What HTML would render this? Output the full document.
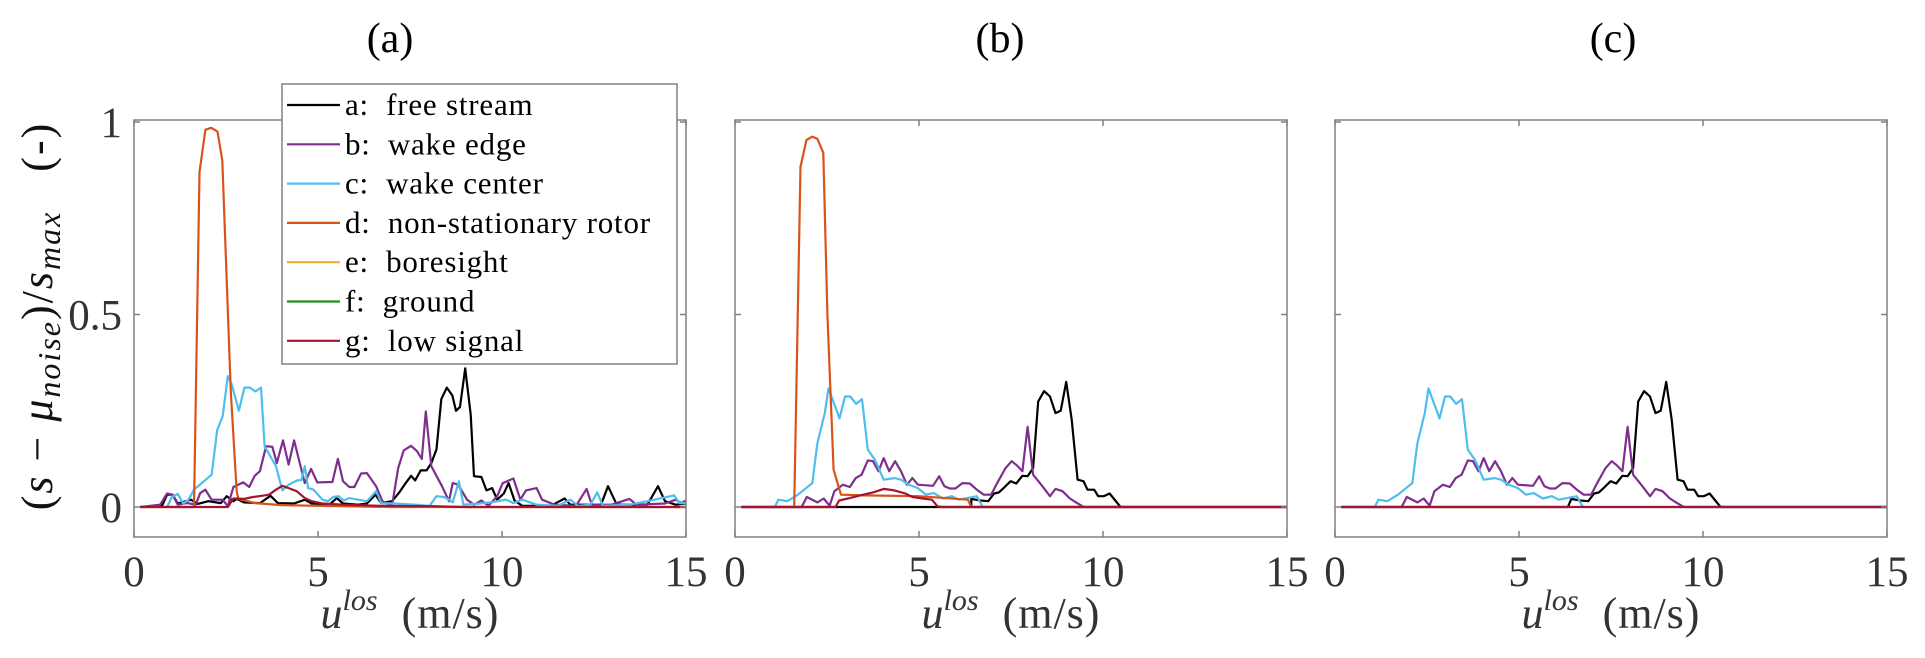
<!DOCTYPE html>
<html><head><meta charset="utf-8"><style>
html,body{margin:0;padding:0;background:#fff;}
svg{display:block;font-family:"Liberation Serif",serif;}
text{white-space:pre;}
</style></head><body>
<svg id="fig" width="1925" height="658" viewBox="0 0 1925 658"></svg>
<script>
// ---- data (u_los in m/s, normalized signal) ----
const xTicks=[0,5,10,15];
const xTickLabels=['0','5','10','15'];
const yTicks=[0,0.5,1];
const yTickLabels=['0','0.5','1'];
const panelTitles=['(a)','(b)','(c)'];
const legendLabels=['a:  free stream','b:  wake edge','c:  wake center','d:  non-stationary rotor','e:  boresight','f:  ground','g:  low signal'];

const aBlack=[[0.17,0],[0.76,0.003],[0.9,0.032],[1.05,0.032],[1.19,0.009],[1.55,0.019],[1.73,0.008],[2.02,0.015],[2.36,0.01],[2.52,0.028],[2.7,0.015],[2.79,0.021],[2.99,0.012],[3.42,0.01],[3.71,0.029],[3.91,0.01],[4.35,0.009],[4.64,0.019],[4.83,0.009],[5.32,0.007],[5.51,0.023],[5.68,0.009],[6.09,0.006],[6.33,0.009],[6.56,0.032],[6.72,0.01],[7.01,0.015],[7.21,0.038],[7.35,0.058],[7.53,0.081],[7.64,0.069],[7.79,0.095],[7.95,0.095],[8.08,0.114],[8.22,0.15],[8.35,0.28],[8.5,0.31],[8.65,0.29],[8.75,0.25],[8.86,0.26],[9.0,0.36],[9.15,0.24],[9.24,0.08],[9.44,0.078],[9.58,0.043],[9.73,0.049],[9.87,0.019],[10.05,0.035],[10.18,0.062],[10.34,0.017],[10.55,0.003],[11.33,0.003],[11.7,0.022],[11.86,0.006],[12.69,0.006],[12.88,0.054],[13.12,0.006],[13.95,0.006],[14.24,0.054],[14.43,0.015],[14.72,0.006],[15.0,0.009]];
const aPurple=[[0.17,0],[0.71,0.006],[0.9,0.035],[1.05,0.032],[1.19,0.006],[1.44,0.01],[1.68,0.006],[1.8,0.036],[1.94,0.045],[2.11,0.019],[2.41,0.019],[2.55,0.002],[2.7,0.052],[2.97,0.064],[3.13,0.052],[3.28,0.081],[3.42,0.093],[3.59,0.158],[3.76,0.156],[3.88,0.114],[4.05,0.173],[4.2,0.11],[4.35,0.173],[4.64,0.062],[4.81,0.099],[4.98,0.064],[5.39,0.065],[5.54,0.125],[5.68,0.067],[5.85,0.052],[5.99,0.052],[6.17,0.087],[6.33,0.088],[6.58,0.054],[6.75,0.015],[7.01,0.003],[7.18,0.101],[7.33,0.147],[7.53,0.159],[7.69,0.145],[7.82,0.125],[7.93,0.248],[8.08,0.106],[8.37,0.054],[8.56,0.015],[8.66,0.062],[8.81,0.058],[9.05,0.019],[9.24,0.006],[9.44,0.017],[9.63,0.003],[9.87,0.028],[10.02,0.062],[10.31,0.074],[10.5,0.019],[10.65,0.043],[10.94,0.049],[11.09,0.019],[11.43,0.006],[12.01,0.003],[12.3,0.047],[12.44,0.006],[12.98,0.006],[13.46,0.021],[13.66,0.006],[14.43,0.009],[14.72,0.019],[14.87,0.01],[15.0,0.017]];
const aCyan=[[0.9,0],[1.03,0.026],[1.19,0.034],[1.34,0.009],[1.48,0.019],[1.63,0.045],[2.11,0.084],[2.26,0.2],[2.41,0.236],[2.55,0.34],[2.65,0.32],[2.85,0.25],[3.0,0.31],[3.15,0.31],[3.3,0.30],[3.45,0.31],[3.55,0.158],[3.86,0.106],[4.03,0.043],[4.2,0.058],[4.44,0.069],[4.55,0.07],[4.64,0.106],[4.73,0.049],[4.88,0.045],[5.12,0.019],[5.27,0.015],[5.41,0.026],[5.56,0.028],[5.7,0.017],[5.85,0.023],[6.09,0.019],[6.33,0.015],[6.58,0.041],[6.72,0.01],[7.06,0.009],[7.64,0.006],[8.03,0.003],[8.22,0.028],[8.42,0.026],[8.56,0.019],[8.66,0.012],[8.83,0.067],[8.95,0.006],[9.39,0.009],[9.68,0.012],[10.12,0.019],[10.31,0.01],[10.55,0.019],[10.94,0.006],[11.52,0.003],[11.86,0.019],[12.06,0.003],[12.4,0.006],[12.59,0.038],[12.74,0.003],[13.46,0.006],[13.95,0.015],[14.34,0.023],[14.68,0.03],[14.82,0.01],[15.0,0.01]];
const aOrange=[[0.17,0],[1.63,0],[1.78,0.87],[1.94,0.98],[2.1,0.985],[2.27,0.975],[2.4,0.90],[2.63,0.3],[2.79,0.04],[2.84,0.021],[3.3,0.01],[4.0,0.005],[5.0,0.003],[7.0,0],[15,0]];
const aRed=[[0.17,0],[2.55,0],[2.7,0.022],[2.99,0.021],[3.23,0.026],[3.47,0.029],[3.67,0.032],[3.86,0.045],[4.03,0.055],[4.2,0.049],[4.42,0.041],[4.64,0.023],[4.83,0.015],[5.12,0.009],[5.7,0.006],[6.67,0.003],[8.13,0.002],[9.0,0],[15,0]];

const bBlack=[[0.17,0],[15,0],[6.42,0],[6.42,0.021],[6.67,0.017],[6.88,0.015],[7.04,0.035],[7.17,0.038],[7.33,0.052],[7.49,0.067],[7.64,0.061],[7.81,0.081],[7.95,0.08],[8.1,0.101],[8.24,0.274],[8.4,0.301],[8.56,0.287],[8.71,0.244],[8.85,0.25],[9.0,0.325],[9.15,0.227],[9.31,0.071],[9.47,0.067],[9.58,0.045],[9.76,0.045],[9.87,0.028],[10.02,0.028],[10.18,0.035],[10.46,0.002],[10.5,0]];
const bPurple=[[0.17,0],[1.81,0],[1.95,0.026],[2.24,0.012],[2.41,0.022],[2.57,0.003],[2.7,0.041],[2.93,0.058],[3.12,0.052],[3.28,0.075],[3.44,0.084],[3.61,0.121],[3.75,0.119],[3.9,0.093],[4.04,0.127],[4.19,0.093],[4.35,0.119],[4.51,0.093],[4.67,0.058],[4.82,0.075],[4.97,0.058],[5.38,0.055],[5.55,0.08],[5.69,0.054],[5.84,0.048],[5.99,0.048],[6.18,0.062],[6.38,0.061],[6.57,0.045],[6.76,0.032],[6.96,0.032],[7.1,0.058],[7.35,0.101],[7.52,0.119],[7.66,0.108],[7.81,0.093],[7.95,0.208],[8.1,0.084],[8.32,0.058],[8.56,0.028],[8.71,0.047],[8.9,0.041],[9.1,0.022],[9.27,0.012],[9.44,0.002],[9.5,0],[15,0]];
const bCyan=[[0.17,0],[1.08,0],[1.18,0.019],[1.42,0.015],[1.71,0.032],[2.1,0.062],[2.24,0.166],[2.44,0.244],[2.54,0.308],[2.84,0.23],[2.99,0.287],[3.13,0.287],[3.29,0.268],[3.45,0.28],[3.61,0.149],[3.8,0.123],[4.04,0.071],[4.33,0.075],[4.51,0.071],[4.72,0.058],[4.97,0.049],[5.19,0.032],[5.4,0.036],[5.65,0.022],[5.89,0.028],[6.08,0.019],[6.57,0.028],[6.72,0.002],[6.8,0],[15,0]];
const bOrange=[[0.17,0],[1.61,0],[1.78,0.884],[1.94,0.953],[2.1,0.962],[2.24,0.956],[2.4,0.92],[2.51,0.5],[2.68,0.097],[2.88,0.032],[3.5,0.03],[5.0,0.028],[6.33,0.019],[6.42,0],[15,0]];
const bRed=[[0.17,0],[2.73,0],[2.83,0.017],[3.12,0.023],[3.48,0.032],[3.75,0.038],[4.04,0.047],[4.33,0.043],[4.63,0.035],[4.82,0.026],[5.11,0.022],[5.35,0.019],[5.5,0.002],[5.6,0],[15,0]];
const cBlack=[[0.17,0],[6.33,0],[6.42,0.021],[6.67,0.017],[6.88,0.015],[7.04,0.035],[7.17,0.038],[7.33,0.052],[7.49,0.067],[7.64,0.061],[7.81,0.081],[7.95,0.08],[8.1,0.101],[8.24,0.274],[8.4,0.301],[8.56,0.287],[8.71,0.244],[8.85,0.25],[9.0,0.325],[9.15,0.227],[9.31,0.071],[9.47,0.067],[9.58,0.045],[9.76,0.045],[9.87,0.028],[10.02,0.028],[10.18,0.035],[10.46,0.002],[10.5,0],[15,0]];
const cRed=[[0.17,0],[15,0]];

const colors={black:'#000000',purple:'#7E2F8E',cyan:'#4DBEEE',orange:'#D95319',yellow:'#EDB120',green:'#1F8C1F',red:'#A2142F'};
const legendColors=[colors.black,colors.purple,colors.cyan,colors.orange,colors.yellow,colors.green,colors.red];

const panels=[
 {left:134,series:[['free-stream',aBlack,colors.black],['wake-edge',aPurple,colors.purple],['wake-center',aCyan,colors.cyan],['non-stationary-rotor',aOrange,colors.orange],['low-signal',aRed,colors.red]]},
 {left:735,series:[['free-stream',bBlack,colors.black],['wake-edge',bPurple,colors.purple],['wake-center',bCyan,colors.cyan],['non-stationary-rotor',bOrange,colors.orange],['low-signal',bRed,colors.red]]},
 {left:1335,series:[['free-stream',cBlack,colors.black],['wake-edge',bPurple,colors.purple],['wake-center',bCyan,colors.cyan],['low-signal',cRed,colors.red]]}
];
const PW=552, TOP=120, BOT=537, XMIN=0, XMAX=15, Y0=507, Y1=122;
const NS='http://www.w3.org/2000/svg';
const svg=document.getElementById('fig');
function mk(tag,attrs,parent){const e=document.createElementNS(NS,tag);for(const k in attrs)e.setAttribute(k,attrs[k]);(parent||svg).appendChild(e);return e;}
function yS(v){return Y0+(Y1-Y0)*v;}

panels.forEach((p,pi)=>{
  const xS=v=>p.left+(v-XMIN)/(XMAX-XMIN)*PW;
  const g=mk('g',{});
  
  
  const cp=mk('clipPath',{id:'clip'+pi},g);
  mk('rect',{x:p.left,y:TOP,width:PW,height:BOT-TOP},cp);
  const sg=mk('g',{'clip-path':'url(#clip'+pi+')'},g);
  p.series.forEach(s=>{
    const d=s[1].map((pt,i)=>(i?'L':'M')+xS(pt[0]).toFixed(1)+' '+yS(pt[1]).toFixed(1)).join(' ');
    const path=mk('path',{d:d,fill:'none',stroke:s[2],'stroke-width':2.2,'stroke-linejoin':'round'},sg);
    
    
  });
  const box=mk('rect',{x:p.left,y:TOP,width:PW,height:BOT-TOP,fill:'none',stroke:'#808080','stroke-width':1.5},g);
  
  
  xTicks.forEach((t,i)=>{
    const x=xS(t);
    mk('line',{x1:x,y1:BOT,x2:x,y2:BOT-6,stroke:'#808080','stroke-width':1.5},g);
    mk('line',{x1:x,y1:TOP,x2:x,y2:TOP+6,stroke:'#808080','stroke-width':1.5},g);
    const tl=mk('text',{x:x,y:586,'text-anchor':'middle','font-size':43,fill:'#333'},g);
    tl.textContent=xTickLabels[i];
    
    
  });
  yTicks.forEach((t,i)=>{
    const y=yS(t);
    mk('line',{x1:p.left,y1:y,x2:p.left+6,y2:y,stroke:'#808080','stroke-width':1.5},g);
    mk('line',{x1:p.left+PW,y1:y,x2:p.left+PW-6,y2:y,stroke:'#808080','stroke-width':1.5},g);
    if(pi===0){
      const tl=mk('text',{x:p.left-12,y:y+15,'text-anchor':'end','font-size':43,fill:'#333'},g);
      tl.textContent=yTickLabels[i];
      
      
    }
  });
  const tt=mk('text',{x:[390,1000,1613][pi],y:52,'text-anchor':'middle','font-size':42,fill:'#000'},g);
  tt.textContent=panelTitles[pi];
  
  
  const xl=mk('text',{x:p.left+PW/2,y:628,'text-anchor':'middle','font-size':44,fill:'#333'},g);
  xl.innerHTML='<tspan font-style="italic">u</tspan><tspan font-style="italic" font-size="30" dy="-18">los</tspan><tspan dy="18" letter-spacing="1">  (m/s)</tspan>';
  
  
});

// y label
const yl=mk('text',{x:0,y:0,'text-anchor':'middle','font-size':44,fill:'#111','letter-spacing':2,transform:'translate(52,316) rotate(-90)'});
yl.innerHTML='(<tspan font-style="italic">s</tspan> − <tspan font-style="italic">μ</tspan><tspan font-style="italic" font-size="32" dy="8">noise</tspan><tspan dy="-8">)/</tspan><tspan font-style="italic">s</tspan><tspan font-style="italic" font-size="32" dy="8">max</tspan><tspan dy="-8">   (-)</tspan>';



// legend
const lg=mk('g',{});


mk('rect',{x:282,y:84,width:395,height:280,fill:'#fff',stroke:'#808080','stroke-width':1.5},lg);
legendLabels.forEach((lab,i)=>{
  const y=105+i*39.3;
  const e=mk('g',{},lg);
  
  
  mk('line',{x1:287,y1:y,x2:340,y2:y,stroke:legendColors[i],'stroke-width':2.2},e);
  const t=mk('text',{x:345,y:y+10,'font-size':31,'letter-spacing':0.8,fill:'#000'},e);
  t.textContent=lab;
});
</script>
</body></html>
